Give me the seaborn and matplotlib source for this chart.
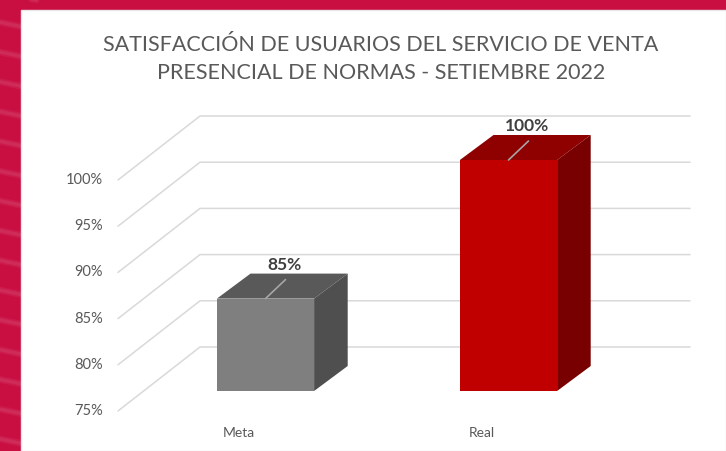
import matplotlib
matplotlib.use("Agg")
import matplotlib.pyplot as plt
import seaborn as sns
from matplotlib.patches import Polygon, Rectangle
from matplotlib.lines import Line2D

# --- data ---
CATEGORIES = ["Meta", "Real"]
VALUES = [85, 100]
VALUE_LABELS = ["85%", "100%"]
TICKS = [75, 80, 85, 90, 95, 100]
TICK_LABELS = ["75%", "80%", "85%", "90%", "95%", "100%"]
TITLE = "SATISFACCIÓN DE USUARIOS DEL SERVICIO DE VENTA\nPRESENCIAL DE NORMAS - SETIEMBRE 2022"
BASE = 75  # floor of the value axis

# --- colours ---
FRONT = ["#7F7F7F", "#C00000"]
TOP = ["#595959", "#8F0000"]
SIDE = ["#4F4F4F", "#780000"]
BG_RED = "#C90E42"
TEXT_GREY = "#595959"
LABEL_GREY = "#404040"
GRID = "#D9D9D9"

# --- layout in pixels (figure is 726 x 451) ---
W, H = 726, 451
CAT0_PX, CAT_STEP_PX = 265.5, 243.0      # centre of first bar, distance between bars
BASE_PY, PX_PER_UNIT = 391.0, 9.24       # bar floor and px per percent point
DEPTH_DX = 1.344                         # x px per y px of depth
AX_L, AX_R, AX_T, AX_B = 100, 712, 95, 445
WALL_FRONT_PX, WALL_BACK_PX, WALL_RIGHT_PX = 118, 200, 690
BAR_DEPTH, BACK_DEPTH, FRONT_DEPTH = 25, 44, -20


def px_x(px):
    return (px - CAT0_PX) / CAT_STEP_PX


def py_y(py):
    return BASE + (BASE_PY - py) / PX_PER_UNIT


def depth(d):
    # depth offset in data units (d in px of vertical shift)
    return d * DEPTH_DX / CAT_STEP_PX, d / PX_PER_UNIT


sns.set_theme(style="white")
plt.rcParams["font.family"] = ["Lato", "DejaVu Sans"]

fig = plt.figure(figsize=(W / 100, H / 100), dpi=100, facecolor=BG_RED)

# faint streaks on the red background
for i in range(16):
    y0 = 1.02 - i * 0.066
    for lw, a in [(5, 0.05), (2.5, 0.08)]:
        fig.lines.append(Line2D([-0.01, 0.05], [y0, y0 - 0.02], transform=fig.transFigure,
                                color="white", alpha=a, lw=lw, zorder=-3))
fig.patches.append(Rectangle((21 / W, 0), 1 - 21 / W, 1 - 10 / H, transform=fig.transFigure,
                             facecolor="white", edgecolor="#E6E6E6", lw=1, zorder=-2))

ax = fig.add_axes([AX_L / W, 1 - AX_B / H, (AX_R - AX_L) / W, (AX_B - AX_T) / H])
ax.set_facecolor("none")

sns.barplot(x=CATEGORIES, y=VALUES, hue=CATEGORIES, palette=FRONT, width=0.4,
            saturation=1, legend=False, ax=ax, zorder=3, linewidth=0)

bars = list(ax.patches)
bdx, bdy = depth(BAR_DEPTH)
for i, p in enumerate(bars):
    top = p.get_height()
    p.set_y(BASE)
    p.set_height(top - BASE)
    x0, w = p.get_x(), p.get_width()
    ax.add_patch(Polygon([(x0, top), (x0 + w, top), (x0 + w + bdx, top + bdy), (x0 + bdx, top + bdy)],
                         closed=True, facecolor=TOP[i], edgecolor="none", zorder=3))
    ax.add_patch(Polygon([(x0 + w, BASE), (x0 + w + bdx, BASE + bdy), (x0 + w + bdx, top + bdy), (x0 + w, top)],
                         closed=True, facecolor=SIDE[i], edgecolor="none", zorder=3))
    cx = x0 + w / 2
    # leader line and data label
    lx, ly = cx + 20 / CAT_STEP_PX, top + 19 / PX_PER_UNIT
    ax.plot([cx, lx], [top, ly], color="#A6A6A6", lw=1.2, zorder=4)
    ax.text(cx + 19 / CAT_STEP_PX, top + 34 / PX_PER_UNIT, VALUE_LABELS[i], ha="center", va="center",
            fontsize=12.5, fontweight="bold", color=LABEL_GREY, zorder=5)

# walls: left wall diagonals + back wall horizontals
fdx, fdy = depth(FRONT_DEPTH)
kdx, kdy = depth(BACK_DEPTH)
xl = px_x(WALL_FRONT_PX)
xb = px_x(WALL_BACK_PX)
xr = px_x(WALL_RIGHT_PX)
for v, lab in zip(TICKS, TICK_LABELS):
    ax.plot([xl, xb, xr], [v + fdy, v + kdy, v + kdy], color=GRID, lw=1.1, zorder=1)
    ax.text(xl - 15 / CAT_STEP_PX, v + fdy, lab, ha="right", va="center",
            fontsize=10.5, color=TEXT_GREY)

# category labels below the floor front edge
for i, cat in enumerate(CATEGORIES):
    ax.text(i + fdx, BASE + fdy - 22 / PX_PER_UNIT, cat, ha="center", va="center",
            fontsize=10, color=TEXT_GREY)

ax.set_xlim(px_x(AX_L), px_x(AX_R))
ax.set_ylim(py_y(AX_B), py_y(AX_T))
ax.set_axis_off()

fig.text(381 / W, 1 - 59 / H, TITLE, ha="center", va="center", fontsize=15.5,
         color=TEXT_GREY, linespacing=1.45)

fig.savefig("out.png", dpi=100, facecolor=fig.get_facecolor())
